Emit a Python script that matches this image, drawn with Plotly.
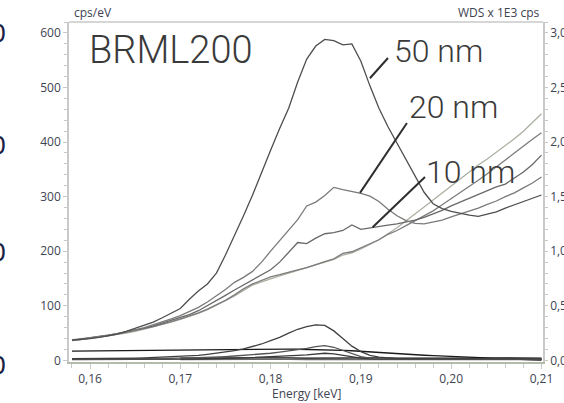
import plotly.graph_objects as go

# Energy grid of the spectra [keV]
energy = [round(0.158 + 0.001 * i, 3) for i in range(53)]

# EDS spectra, cps/eV (left axis)
eds_50nm = [37, 38, 40, 42, 45, 48, 53, 59, 64, 70,
            78, 86, 95, 112, 127, 140, 160, 193, 228, 265,
            303, 345, 385, 425, 462, 510, 552, 576, 588, 586,
            578, 580, 548, 503, 462, 428, 398, 368, 338, 308,
            287, 278, 273, 269, 266, 264, 268, 272, 279, 285,
            292, 298, 303]
eds_20nm = [37, 38, 41, 43, 46, 49, 52, 56, 60, 65,
            70, 76, 82, 89, 97, 107, 118, 130, 143, 152,
            163, 180, 200, 220, 238, 258, 283, 290, 302, 317,
            313, 310, 306, 301, 291, 277, 265, 256, 251, 250,
            253, 257, 263, 268, 274, 279, 286, 292, 300, 307,
            316, 325, 336]
eds_10nm = [37, 39, 41, 43, 46, 49, 52, 55, 59, 63,
            68, 73, 78, 84, 91, 100, 109, 119, 129, 138,
            148, 156, 166, 180, 198, 216, 214, 224, 232, 234,
            238, 248, 240, 243, 245, 248, 250, 253, 257, 262,
            268, 275, 283, 290, 297, 304, 312, 318, 323, 334,
            345, 359, 376]
eds_ref_a = [36, 38, 40, 42, 45, 48, 51, 54, 58, 62,
             66, 71, 76, 81, 87, 94, 102, 110, 120, 131,
             140, 146, 153, 157, 162, 166, 170, 176, 181, 186,
             196, 199, 206, 214, 221, 231, 238, 247, 256, 264,
             274, 285, 296, 307, 318, 330, 342, 354, 367, 380,
             393, 405, 417]
eds_ref_b = [38, 39, 41, 43, 45, 47, 50, 53, 57, 61,
             65, 70, 75, 80, 86, 93, 101, 109, 118, 128,
             138, 144, 150, 155, 160, 165, 169, 175, 180, 185,
             193, 197, 204, 212, 221, 232, 243, 256, 268, 281,
             294, 307, 320, 333, 346, 358, 369, 381, 393, 406,
             420, 436, 452]

# WDS spectra, cps (right axis, shown in 1E3 cps)
wds_50nm = [15, 15, 15, 15, 17, 17, 20, 20, 22, 25,
            27, 30, 35, 40, 45, 55, 65, 75, 90, 105,
            125, 150, 180, 210, 250, 285, 310, 325, 320, 270,
            200, 130, 80, 45, 30, 20, 15, 15, 15, 15,
            15, 15, 15, 15, 15, 15, 15, 15, 15, 15,
            15, 15, 15]
wds_20nm = [10, 10, 10, 10, 10, 12, 12, 15, 15, 15,
            17, 17, 20, 22, 25, 27, 30, 35, 40, 45,
            50, 60, 65, 75, 85, 95, 110, 125, 135, 120,
            90, 60, 35, 20, 15, 12, 10, 10, 10, 10,
            10, 10, 10, 10, 10, 10, 10, 10, 10, 10,
            10, 10, 10]
wds_10nm = [7, 7, 7, 7, 7, 7, 7, 7, 7, 7,
            10, 10, 10, 12, 12, 15, 15, 17, 20, 22,
            25, 27, 30, 35, 40, 45, 50, 60, 65, 60,
            45, 30, 20, 15, 12, 10, 10, 10, 10, 10,
            10, 10, 10, 10, 10, 10, 10, 10, 10, 10,
            10, 10, 10]
wds_bg = [85, 86, 87, 88, 89, 90, 91, 92, 93, 94,
          95, 96, 97, 98, 99, 100, 101, 102, 103, 104,
          104, 104, 104, 103, 103, 102, 101, 100, 98, 96,
          92, 88, 82, 76, 70, 65, 60, 55, 51, 47,
          43, 39, 35, 31, 27, 23, 19, 15, 12, 9,
          6, 4, 2]
energy_ref = [round(0.170 + 0.002 * i, 3) for i in range(21)]
wds_ref_a = [20, 21, 19, 22, 20, 21, 23, 20, 22, 21, 20,
             22, 21, 20, 22, 21, 20, 21, 22, 20, 21]
wds_ref_b = [8, 9, 8, 8, 9, 8, 9, 8, 8, 9, 8,
             8, 9, 8, 8, 9, 8, 8, 9, 8, 8]

x_ticks = [0.16, 0.17, 0.18, 0.19, 0.20, 0.21]

FONT = "Open Sans"
TICK_COLOR = "#3e4352"
AXIS_COLOR = "#c9c9c9"

fig = go.Figure()

# WDS traces, scaled to 1E3 cps
wds_traces = [
    (energy_ref, wds_ref_b, "#6a6a6a"),
    (energy_ref, wds_ref_a, "#111111"),
    (energy, wds_bg, "#1a1a1a"),
    (energy, wds_10nm, "#3a3a3a"),
    (energy, wds_20nm, "#555555"),
    (energy, wds_50nm, "#404040"),
]
for xs, ys, col in wds_traces:
    fig.add_trace(go.Scatter(x=xs, y=[v / 1000 for v in ys], yaxis="y2",
                             mode="lines", line=dict(color=col, width=1.3),
                             showlegend=False))

# EDS traces
eds_traces = [
    (eds_ref_b, "#a9b0a0"),
    (eds_ref_a, "#7c7c7c"),
    (eds_10nm, "#686868"),
    (eds_20nm, "#7a7a7a"),
    (eds_50nm, "#4e4e4e"),
]
for ys, col in eds_traces:
    fig.add_trace(go.Scatter(x=energy, y=ys, mode="lines",
                             line=dict(color=col, width=1.3),
                             showlegend=False))

# Leader lines from the thickness labels to their spectra
leaders = [
    (0.1910, 517, 0.1930, 554),
    (0.1899, 307, 0.1951, 435),
    (0.1913, 244, 0.1971, 336),
]
for x0, y0, x1, y1 in leaders:
    fig.add_shape(type="line", xref="x", yref="y", x0=x0, y0=y0, x1=x1, y1=y1,
                  line=dict(color="#2e2e2e", width=2))

# Top frame line
fig.add_shape(type="line", xref="paper", yref="paper", x0=0, x1=1, y0=1, y1=1,
              line=dict(color=AXIS_COLOR, width=1.5))

big = dict(family="Roboto Light, Roboto", color="#3a3a3a", weight=300)
labels = [
    ("BRML200", 0.1597, 569, 38),
    ("50 nm", 0.1935, 566, 32),
    ("20 nm", 0.1951, 464, 32),
    ("10 nm", 0.1970, 345, 32),
]
for txt, xv, yv, sz in labels:
    fig.add_annotation(x=xv, y=yv, xref="x", yref="y", text=txt, showarrow=False,
                       xanchor="left", yanchor="middle",
                       font=dict(big, size=sz))

small = dict(family=FONT, size=12, color=TICK_COLOR)
fig.add_annotation(x=0.006, y=1.027, xref="paper", yref="paper", text="cps/eV",
                   showarrow=False, xanchor="left", yanchor="middle", font=small)
fig.add_annotation(x=0.996, y=1.027, xref="paper", yref="paper", text="WDS x 1E3 cps",
                   showarrow=False, xanchor="right", yanchor="middle", font=small)
fig.add_annotation(x=0.5, y=-0.094, xref="paper", yref="paper", text="Energy [keV]",
                   showarrow=False, xanchor="center", yanchor="middle", font=small)

# Labels of a neighbouring panel, clipped at the left edge
for yp in [0.965, 0.635, 0.321, -0.012]:
    fig.add_annotation(x=-0.129, y=yp, xref="paper", yref="paper", text="0",
                       showarrow=False, xanchor="right", yanchor="middle",
                       font=dict(family="DejaVu Sans", size=24, color="#1c1f45"))

fig.update_layout(
    width=564, height=403,
    margin=dict(l=69, r=21, t=22, b=41),
    paper_bgcolor="white", plot_bgcolor="white",
    separators=",.",
    showlegend=False,
    xaxis=dict(range=[0.15767, 0.21017], tickvals=x_ticks, tickformat=".2f",
               ticks="outside", ticklen=5, tickcolor=AXIS_COLOR, tickwidth=1,
               minor=dict(dtick=0.002, tick0=0.16, ticks="outside", ticklen=4,
                          tickcolor=AXIS_COLOR),
               showline=True, linecolor="#b3bcaa", linewidth=1.5,
               showgrid=False, zeroline=False, automargin=False,
               tickfont=small),
    yaxis=dict(range=[-3, 620], dtick=100, tick0=0,
               ticks="outside", ticklen=4, tickcolor=AXIS_COLOR,
               minor=dict(dtick=20, ticks="outside", ticklen=3, tickcolor=AXIS_COLOR),
               showline=True, linecolor=AXIS_COLOR, linewidth=1.5, automargin=False,
               showgrid=False, zeroline=False, tickfont=small),
    yaxis2=dict(range=[-0.015, 3.1], dtick=0.5, tick0=0, tickformat=".1f",
                overlaying="y", side="right",
                ticks="outside", ticklen=3, tickcolor=AXIS_COLOR,
                minor=dict(dtick=0.1, ticks="outside", ticklen=3, tickcolor=AXIS_COLOR),
                showline=True, linecolor=AXIS_COLOR, linewidth=1.5, automargin=False,
                showgrid=False, zeroline=False, tickfont=small),
)

fig.write_html("out.html")
